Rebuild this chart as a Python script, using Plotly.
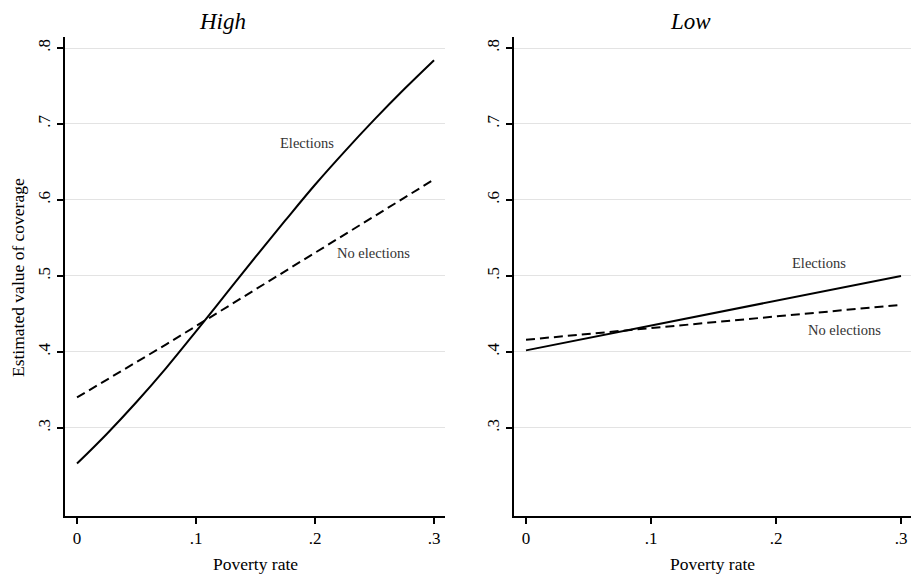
import plotly.graph_objects as go

# Data
poverty = [0.0, 0.025, 0.05, 0.075, 0.10, 0.125, 0.15, 0.175, 0.20, 0.225, 0.25, 0.275, 0.30]
high_elections = [0.253, 0.292, 0.334, 0.379, 0.427, 0.476, 0.525, 0.573, 0.620, 0.664, 0.706, 0.746, 0.784]
high_no_elections = [0.340, 0.363, 0.386, 0.410, 0.434, 0.458, 0.482, 0.507, 0.531, 0.555, 0.579, 0.603, 0.627]
poverty_low = [0.0, 0.1, 0.2, 0.3]
low_elections = [0.402, 0.435, 0.467, 0.500]
low_no_elections = [0.416, 0.431, 0.447, 0.462]

panel_titles = ["High", "Low"]
x_ticks = [0, 0.1, 0.2, 0.3]
x_tick_labels = ["0", ".1", ".2", ".3"]
y_ticks = [0.3, 0.4, 0.5, 0.6, 0.7, 0.8]
y_tick_labels = [".3", ".4", ".5", ".6", ".7", ".8"]

FONT = "Liberation Serif, Times New Roman, serif"
W, H = 911, 576

fig = go.Figure()

line_solid = dict(color="black", width=2, shape="spline", smoothing=1.0)
line_dash = dict(color="black", width=2, dash="9px,5px")

fig.add_trace(go.Scatter(x=poverty, y=high_elections, mode="lines", line=line_solid,
                         xaxis="x", yaxis="y", showlegend=False))
fig.add_trace(go.Scatter(x=poverty, y=high_no_elections, mode="lines", line=line_dash,
                         xaxis="x", yaxis="y", showlegend=False))
fig.add_trace(go.Scatter(x=poverty_low, y=low_elections, mode="lines", line=dict(color="black", width=2),
                         xaxis="x2", yaxis="y2", showlegend=False))
fig.add_trace(go.Scatter(x=poverty_low, y=low_no_elections, mode="lines", line=line_dash,
                         xaxis="x2", yaxis="y2", showlegend=False))

ydom = [1 - 516 / H, 1 - 37 / H]
x1dom = [65 / W, 445 / W]
x2dom = [514 / W, 1.0]

xaxis_common = dict(
    tickmode="array", tickvals=x_ticks, ticktext=x_tick_labels,
    showline=True, linecolor="black", linewidth=1.5,
    ticks="outside", ticklen=6, tickcolor="black", tickwidth=1.5,
    showgrid=False, zeroline=False, automargin=False,
    tickfont=dict(family=FONT, size=17, color="black"),
)
yaxis_common = dict(
    tickmode="array", tickvals=y_ticks, ticktext=y_tick_labels, tickangle=-90,
    showline=True, linecolor="black", linewidth=1.5,
    ticks="outside", ticklen=6, tickcolor="black", tickwidth=1.5,
    showgrid=True, gridcolor="#e3e3e3", gridwidth=1.2, zeroline=False, automargin=False,
    tickfont=dict(family=FONT, size=17, color="black"),
    range=[0.184, 0.8145], domain=ydom,
)

fig.update_layout(
    width=W, height=H,
    margin=dict(l=0, r=0, t=0, b=0),
    paper_bgcolor="white", plot_bgcolor="white",
    xaxis=dict(xaxis_common, domain=x1dom, range=[-0.0101, 0.3092], anchor="y"),
    yaxis=dict(yaxis_common, anchor="x"),
    xaxis2=dict(xaxis_common, domain=x2dom, range=[-0.0096, 0.308], anchor="y2"),
    yaxis2=dict(yaxis_common, anchor="x2"),
)

# Panel titles
for cx_px, t in zip([222, 690], panel_titles):
    fig.add_annotation(text="<i>" + t + "</i>", x=cx_px / W, y=1 - 21 / H, xref="paper", yref="paper",
                       showarrow=False, font=dict(family=FONT, size=23, color="black"),
                       xanchor="center", yanchor="middle")

# Axis titles
for cx_px in [255, 712]:
    fig.add_annotation(text="Poverty rate", x=cx_px / W, y=1 - 564 / H, xref="paper", yref="paper",
                       showarrow=False, font=dict(family=FONT, size=17.5, color="black"),
                       xanchor="center", yanchor="middle")
fig.add_annotation(text="Estimated value of coverage", x=18 / W, y=1 - 278 / H,
                   xref="paper", yref="paper", textangle=-90, showarrow=False,
                   font=dict(family=FONT, size=17.5, color="black"),
                   xanchor="center", yanchor="middle")

# Line labels
labels = [
    ("Elections", 0.193, 0.675, "x", "y"),
    ("No elections", 0.249, 0.530, "x", "y"),
    ("Elections", 0.234, 0.517, "x2", "y2"),
    ("No elections", 0.255, 0.429, "x2", "y2"),
]
for text, xv, yv, xr, yr in labels:
    fig.add_annotation(text=text, x=xv, y=yv, xref=xr, yref=yr, showarrow=False,
                       font=dict(family=FONT, size=14.5, color="#333333"),
                       xanchor="center", yanchor="middle")

fig.write_html("out.html", config={"displayModeBar": False},
               post_script="document.body.style.margin='0';document.body.style.overflow='hidden';")
